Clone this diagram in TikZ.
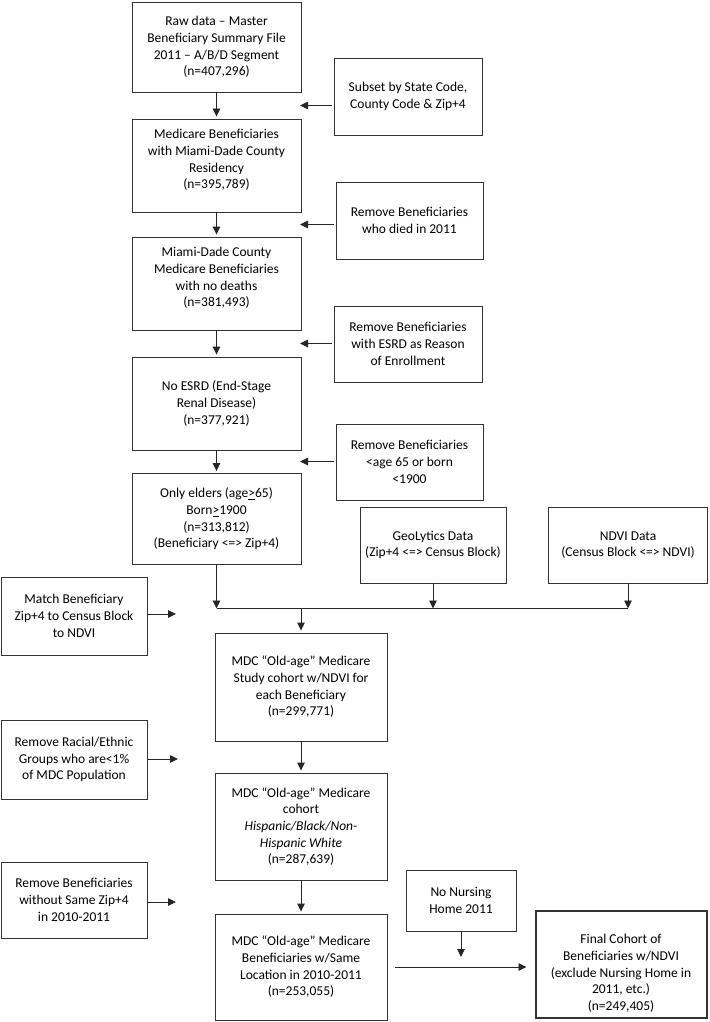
\documentclass[tikz,border=0pt]{standalone}
\usepackage{fontspec}
\setmainfont{Carlito}
\usetikzlibrary{arrows.meta}
\begin{document}
\begin{tikzpicture}[x=1pt,y=-1pt,
  box/.style={draw=black!80, line width=0.9pt, rectangle, inner sep=0pt, align=center,
    font=\fontsize{13.5}{16.7}\selectfont},
  mainbox/.style={box, minimum width=169pt},
  lowbox/.style={box, minimum width=172pt},
  sidebox/.style={box, minimum width=147pt, minimum height=77pt},
  arr/.style={draw=black!85, line width=0.9pt, -{Triangle[length=8pt,width=7.5pt]}},
  ln/.style={draw=black!85, line width=0.9pt}]
\useasboundingbox (0,0) rectangle (709,1022);
% main column
\node[mainbox, minimum height=90pt] (raw) at (216.5,47) {Raw data – Master\\Beneficiary Summary File\\2011 – A/B/D Segment\\(n=407,296)};
\node[mainbox, minimum height=93pt] (med) at (216.5,165.5) {Medicare Beneficiaries\\with Miami-Dade County\\Residency\\(n=395,789)\rule[-13pt]{0pt}{0pt}};
\node[mainbox, minimum height=93pt] (mia) at (216.5,283.5) {Miami-Dade County\\Medicare Beneficiaries\\with no deaths\\(n=381,493)\rule[-13pt]{0pt}{0pt}};
\node[mainbox, minimum height=93pt] (esrd) at (216.5,403.5) {No ESRD (End-Stage\\Renal Disease)\\(n=377,921)};
\node[mainbox, minimum height=91pt] (eld) at (216.5,519) {Only elders (age\underline{>}65)\\Born\underline{>}1900\\(n=313,812)\\(Beneficiary <=> Zip+4)};
\node[lowbox, minimum height=108pt] (study) at (301,687) {MDC “Old-age” Medicare\\Study cohort w/NDVI for\\each Beneficiary\\(n=299,771)};
\node[lowbox, minimum height=107pt] (cohort) at (301,826.5) {MDC “Old-age” Medicare\\cohort\\\textit{Hispanic/Black/Non-}\\\textit{Hispanic White}\\(n=287,639)};
\node[lowbox, minimum height=106pt] (same) at (301,967) {MDC “Old-age” Medicare\\Beneficiaries w/Same\\Location in 2010-2011\\(n=253,055)};
\node[box, line width=2pt, minimum width=171pt, minimum height=107pt] (final) at (621,964) {\rule{0pt}{28pt}Final Cohort of\\Beneficiaries w/NDVI\\(exclude Nursing Home in\\2011, etc.)\\(n=249,405)};
% side boxes
\node[sidebox, minimum width=148pt] (subset) at (408,96.5) {Subset by State Code,\\County Code \& Zip+4};
\node[sidebox] (died) at (409.5,220.5) {Remove Beneficiaries\\who died in 2011};
\node[sidebox, minimum width=148pt, minimum height=76pt] (esrdr) at (408,344) {Remove Beneficiaries\\with ESRD as Reason\\of Enrollment};
\node[sidebox, minimum height=76pt] (age) at (409.5,462) {Remove Beneficiaries\\<age 65 or born\\<1900};
\node[sidebox, minimum width=146pt, minimum height=76pt] (geo) at (433,545) {GeoLytics Data\\(Zip+4 <=> Census Block)};
\node[sidebox, minimum width=159pt, minimum height=76pt] (ndvi) at (628,545) {NDVI Data\\(Census Block <=> NDVI)};
\node[sidebox, minimum width=146pt, minimum height=78pt] (match) at (74,616) {Match Beneficiary\\Zip+4 to Census Block\\to NDVI};
\node[sidebox, minimum width=146pt, minimum height=79pt] (racial) at (74,759.5) {Remove Racial/Ethnic\\Groups who are<1\%\\of MDC Population};
\node[sidebox, minimum width=146pt, minimum height=76pt] (without) at (74,900) {Remove Beneficiaries\\without Same Zip+4\\in 2010-2011};
\node[box, minimum width=110pt, minimum height=61pt] (nursing) at (461,900.5) {No Nursing\\Home 2011};
% gap coordinates
\coordinate (g1) at (300,105.5);
\coordinate (g2) at (300,224.5);
\coordinate (g3) at (300,343.5);
\coordinate (g4) at (300,461.5);
\coordinate (jl) at (216.5,608.5);
\coordinate (jr) at (628,608.5);
\coordinate (m1) at (176,614);
\coordinate (r1) at (178,759);
\coordinate (w1) at (176,902);
\coordinate (n1) at (461,957);
% vertical main arrows
\draw[arr, shorten >=2pt] (raw) -- (med);
\draw[arr, shorten >=2pt] (med) -- (mia);
\draw[arr, shorten >=2pt] (mia) -- (esrd);
\draw[arr, shorten >=2pt] (esrd) -- (eld);
% side arrows
\draw[arr, shorten <=2pt] (subset.west |- g1) -- (g1);
\draw[arr, shorten <=2pt] (died.west |- g2) -- (g2);
\draw[arr, shorten <=2pt] (esrdr.west |- g3) -- (g3);
\draw[arr, shorten <=2pt] (age.west |- g4) -- (g4);
% merge
\draw[ln] (jl) -- (jr);
\draw[arr] (eld) -- (jl);
\draw[arr] (geo) -- (geo |- jl);
\draw[arr] (ndvi) -- (jr);
\draw[arr, shorten >=2pt] (study |- jl) -- (study);
\draw[arr, shorten >=2pt] (study) -- (cohort);
\draw[arr, shorten >=2pt] (cohort) -- (same);
% left arrows
\draw[arr] (match.east |- m1) -- (m1);
\draw[arr] (racial.east |- r1) -- (r1);
\draw[arr] (without.east |- w1) -- (w1);
% nursing
\draw[arr] (nursing) -- (n1);
\draw[arr, shorten <=8pt, shorten >=8pt] (same.east) -- (same.east -| final.west);
\end{tikzpicture}
\end{document}
